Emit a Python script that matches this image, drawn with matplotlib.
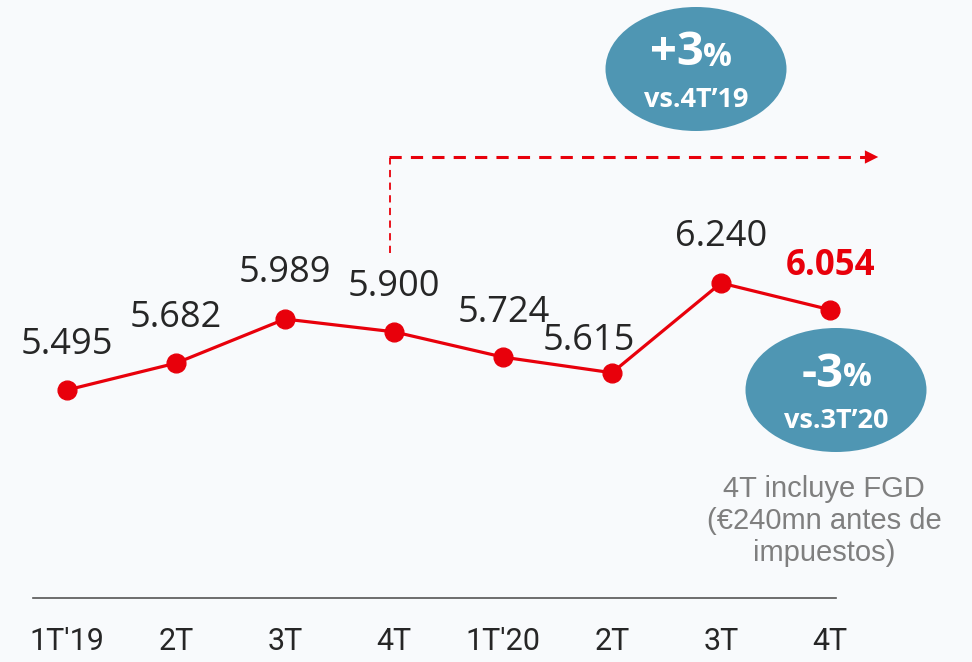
import matplotlib
matplotlib.use("Agg")
import matplotlib.pyplot as plt
from matplotlib.patches import Ellipse, FancyArrowPatch
from matplotlib import font_manager

categories = ["1T'19", "2T", "3T", "4T", "1T'20", "2T", "3T", "4T"]
values = [5.495, 5.682, 5.989, 5.900, 5.724, 5.615, 6.240, 6.054]
value_labels = ["5.495", "5.682", "5.989", "5.900", "5.724", "5.615", "6.240", "6.054"]

fonts = font_manager.fontManager.ttflist
names = {f.name for f in fonts}
bold_names = {f.name for f in fonts if (f.weight if isinstance(f.weight, int) else 400) >= 600
              or str(f.weight) in ("bold", "heavy", "black", "semibold", "demibold")}

def pick(cands, need_bold=False):
    for c in cands:
        if c in names and (not need_bold or c in bold_names):
            return c
    return "DejaVu Sans"

main_font = pick(["Open Sans", "Noto Sans", "Lato"])
bold_font = pick(["Open Sans", "Noto Sans", "Lato", "DejaVu Sans"], need_bold=True)
narrow = pick(["Liberation Sans Narrow", "Roboto", "Liberation Sans"])

BG = "#F8FAFC"
RED = "#E8000B"
BLUE = "#4F96B3"
GREY = "#7F7F7F"

W, H = 972, 662
fig = plt.figure(figsize=(W / 100, H / 100), dpi=100, facecolor=BG)
ax = fig.add_axes([0, 0, 1, 1], facecolor=BG)

pxu = (830 - 67) / 7
pyu = (390 - 283) / (6.240 - 5.495)
ax.set_xlim(-67 / pxu, 7 + (W - 830) / pxu)
ax.set_ylim(5.495 - (H - 390) / pyu, 5.495 + 390 / pyu)
ax.axis("off")

def px(x):
    return -67 / pxu + x / pxu

def py(y):
    return 5.495 + (390 - y) / pyu

xs = list(range(len(values)))
ax.plot(xs, values, color=RED, lw=2.3, marker="o", markersize=13.5, zorder=3)

offsets = [(0, 45), (0, 45), (0, 46), (0, 45), (1, 44), (-23, 32), (0, 46), (0, 44)]
for i, (v, lab) in enumerate(zip(values, value_labels)):
    dx, dy = offsets[i]
    last = i == len(values) - 1
    ax.annotate(lab, (i, v), xytext=(dx * 0.72, dy * 0.72), textcoords="offset points",
                ha="center", va="center", fontsize=26 if not last else 25,
                fontfamily=bold_font if last else main_font,
                fontweight="bold" if last else "normal",
                color=RED if last else "#262626")

ax.plot([px(33), px(836)], [py(598), py(598)], color="#555555", lw=1.2, zorder=2)

for i, c in enumerate(categories):
    ax.text(i, py(641), c, ha="center", va="center", fontsize=22, fontfamily=narrow,
            color="#262626")

ax.plot([px(390), px(390)], [py(253), py(158)], color=RED, lw=1.3, ls=(0, (4, 3)), zorder=2)
ax.plot([px(389), px(866)], [py(157), py(157)], color=RED, lw=2.2, ls=(0, (4, 3)), zorder=2)
arr = FancyArrowPatch((px(862), py(157)), (px(881), py(157)), arrowstyle="-|>",
                      mutation_scale=24, color=RED, lw=0)
ax.add_patch(arr)

def bubble(cx, cy, sign_num, small):
    e = Ellipse((px(cx), py(cy)), width=181 / pxu, height=124 / pyu, facecolor=BLUE,
                edgecolor="none", zorder=4)
    ax.add_patch(e)
    ax.text(px(cx + 8), py(cy - 16), sign_num, ha="right", va="center", color="white",
            fontsize=34, fontweight="bold", fontfamily=bold_font, zorder=5)
    ax.text(px(cx + 7), py(cy - 12), "%", ha="left", va="center", color="white",
            fontsize=23, fontweight="bold", fontfamily=bold_font, zorder=5)
    ax.text(px(cx), py(cy + 31), small, ha="center", va="center", color="white",
            fontsize=19.5, fontweight="bold", fontfamily=bold_font, zorder=5)

bubble(696, 69, "+3", "vs.4T\u201919")
bubble(836, 390, "-3", "vs.3T\u201920")

ax.text(px(824), py(521), "4T incluye FGD\n(€240mn antes de\nimpuestos)", ha="center",
        va="center", color=GREY, fontsize=21, fontfamily="Liberation Sans",
        linespacing=1.2)

fig.savefig("out.png", dpi=100, facecolor=BG)
